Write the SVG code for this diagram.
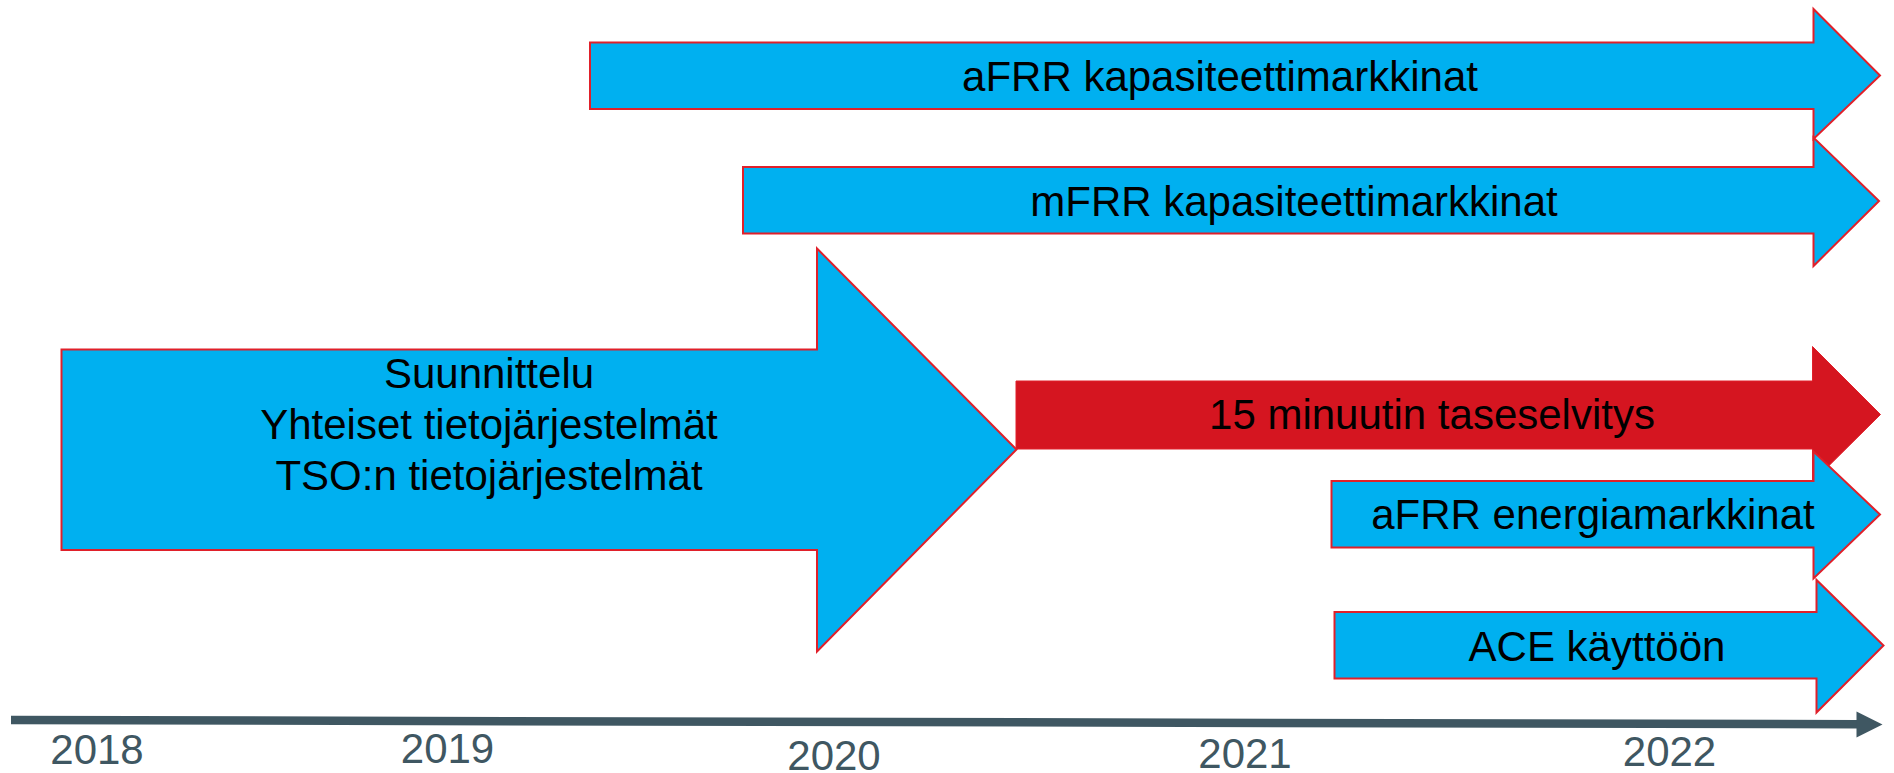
<svg xmlns="http://www.w3.org/2000/svg" width="1894" height="773" viewBox="0 0 1894 773">
  <style>
    .blue { fill: #00B0F0; stroke: #E0202A; stroke-width: 2; stroke-linejoin: miter; }
    .red { fill: #D51520; stroke: #E0202A; stroke-width: 1; }
    .lbl { font-family: "Liberation Sans", Arial, sans-serif; font-size: 42px; fill: #000000; text-anchor: middle; }
    .year { font-family: "Liberation Sans", Arial, sans-serif; font-size: 42px; fill: #3F5762; text-anchor: middle; }
  </style>
  <rect x="0" y="0" width="1894" height="773" fill="#FFFFFF"/>

  <g id="node-afrr-kapasiteetti">
    <polygon class="blue" points="590,42.5 1813.5,42.5 1813.5,9 1880,75.5 1813.5,139 1813.5,109 590,109"/>
    <text class="lbl" x="1220" y="91">aFRR kapasiteettimarkkinat</text>
  </g>

  <g id="node-mfrr-kapasiteetti">
    <polygon class="blue" points="743,167 1813.5,167 1813.5,137.5 1879,201 1813.5,266 1813.5,233.5 743,233.5"/>
    <text class="lbl" x="1294" y="216">mFRR kapasiteettimarkkinat</text>
  </g>

  <g id="node-suunnittelu">
    <polygon class="blue" points="61.5,349.5 817,349.5 817,248.5 1016.5,449.5 817,651.5 817,550 61.5,550"/>
    <text class="lbl" x="489" y="388">Suunnittelu</text>
    <text class="lbl" x="489" y="439">Yhteiset tietojärjestelmät</text>
    <text class="lbl" x="489" y="490">TSO:n tietojärjestelmät</text>
  </g>

  <g id="node-taseselvitys">
    <polygon class="red" points="1016,381 1812.5,381 1812.5,346.5 1880.5,414.5 1812.5,482 1812.5,449 1016,449"/>
    <text class="lbl" x="1432" y="429">15 minuutin taseselvitys</text>
  </g>

  <g id="node-afrr-energia">
    <polygon class="blue" points="1331.5,481 1813.5,481 1813.5,451.5 1880,514.5 1813.5,578.5 1813.5,547.5 1331.5,547.5"/>
    <text class="lbl" x="1593" y="529">aFRR energiamarkkinat</text>
  </g>

  <g id="node-ace">
    <polygon class="blue" points="1334.5,612 1816.5,612 1816.5,580 1883.5,645.5 1816.5,712.5 1816.5,678.5 1334.5,678.5"/>
    <text class="lbl" x="1597" y="661">ACE käyttöön</text>
  </g>

  <g id="connectors">
    <line x1="11" y1="720" x2="1858" y2="724.3" stroke="#3F5762" stroke-width="8.5"/>
    <polygon points="1856.5,711.5 1882.5,724.6 1856.5,737.5" fill="#3F5762"/>
  </g>

  <g id="axis-labels">
    <text class="year" x="97" y="764">2018</text>
    <text class="year" x="447.5" y="763">2019</text>
    <text class="year" x="834" y="770">2020</text>
    <text class="year" x="1245" y="768">2021</text>
    <text class="year" x="1669.5" y="766">2022</text>
  </g>
</svg>
